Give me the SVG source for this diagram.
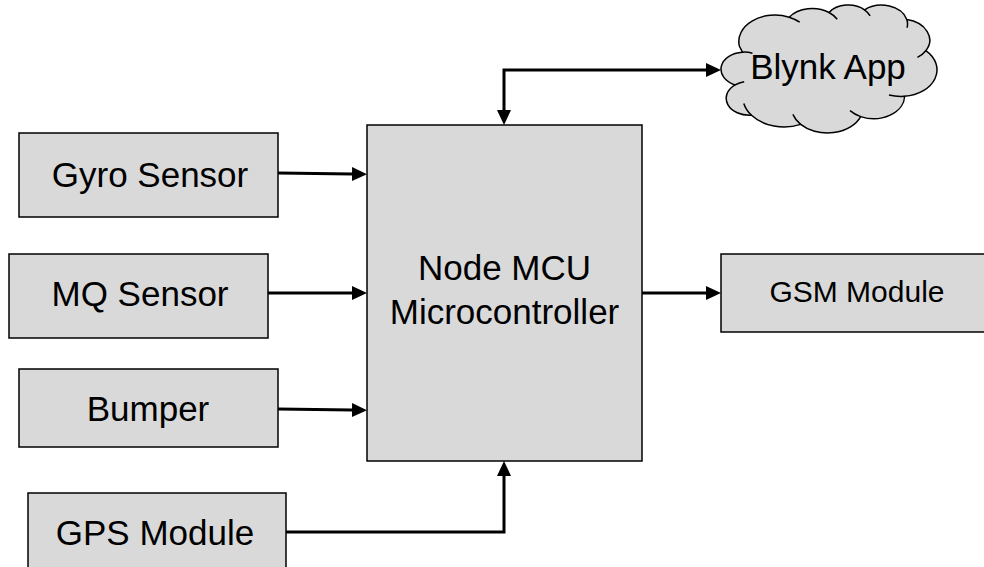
<svg xmlns="http://www.w3.org/2000/svg" width="984" height="567" viewBox="0 0 984 567">
<style>
.box{fill:#d9d9d9;stroke:#000;stroke-width:1.5}
.lbl{font-family:"Liberation Sans",Arial,sans-serif;font-size:35px;fill:#000;text-anchor:middle}
.conn{fill:none;stroke:#000;stroke-width:3}
.crease{fill:none;stroke:#000;stroke-width:1.5}
</style>
<defs>
<marker id="ah" markerUnits="userSpaceOnUse" markerWidth="16" markerHeight="14" refX="0" refY="7" orient="auto-start-reverse" viewBox="0 0 16 14">
<path d="M0,0 L15,7 L0,14 Z" fill="#000"/>
</marker>
</defs>
<rect width="984" height="567" fill="#fff"/>
<g id="connectors">
<path class="conn" d="M278,173 L352,174" marker-end="url(#ah)"/>
<path class="conn" d="M268,293 L352,293" marker-end="url(#ah)"/>
<path class="conn" d="M278,409 L352,410" marker-end="url(#ah)"/>
<path class="conn" d="M286,532 L504,532 L504,476" marker-end="url(#ah)"/>
<path class="conn" d="M642,293 L706,293" marker-end="url(#ah)"/>
<path class="conn" d="M504,110 L504,70 L706,70" marker-start="url(#ah)" marker-end="url(#ah)"/>
</g>
<g id="gyro">
<rect class="box" x="19" y="133" width="259" height="84"/>
<text class="lbl" x="150" y="187">Gyro Sensor</text>
</g>
<g id="mq">
<rect class="box" x="9" y="254" width="259" height="84"/>
<text class="lbl" x="140" y="306">MQ Sensor</text>
</g>
<g id="bumper">
<rect class="box" x="19" y="369" width="259" height="78"/>
<text class="lbl" x="148" y="421">Bumper</text>
</g>
<g id="gps">
<rect class="box" x="28" y="493" width="258" height="90"/>
<text class="lbl" x="155" y="545">GPS Module</text>
</g>
<g id="mcu">
<rect class="box" x="367" y="125" width="275" height="336"/>
<text class="lbl" x="504.5" y="280">Node MCU</text>
<text class="lbl" x="504.5" y="324">Microcontroller</text>
</g>
<g id="gsm">
<rect class="box" x="721" y="254" width="280" height="78"/>
<text class="lbl" x="857" y="302" style="font-size:30px">GSM Module</text>
</g>
<g id="blynk">
<path class="box" d="M739.42,46.30 A36.11,26.46 0 0 1 789.21,17.18 A28.52,20.92 0 0 1 829.02,12.49 A23.34,17.11 0 0 1 864.52,9.78 A25.98,18.98 0 0 1 906.79,19.60 A28.52,20.94 0 0 1 925.82,50.70 A36.23,26.54 0 0 1 904.56,96.27 A30.94,22.65 0 0 1 860.71,116.60 A36.11,26.53 0 0 1 800.66,124.36 A41.29,30.35 0 0 1 751.52,115.29 A23.32,17.04 0 0 1 735.10,84.93 A23.24,17.11 0 0 1 742.49,52.13 Z"/>
<path class="crease" d="M789.21,17.18 A36.11,26.46 0 0 1 799.71,22.23 M829.02,12.49 A28.52,20.92 0 0 1 837.23,19.26 M864.52,9.78 A23.34,17.11 0 0 1 870.12,15.95 M906.79,19.60 A25.98,18.98 0 0 1 907.04,27.82 M925.82,50.70 A28.52,20.94 0 0 1 917.43,57.35 M904.56,96.27 A36.23,26.54 0 0 1 888.98,94.97 M860.71,116.60 A30.94,22.65 0 0 1 850.04,110.68 M800.66,124.36 A36.11,26.53 0 0 1 792.88,114.40 M751.52,115.29 A41.29,30.35 0 0 1 743.80,103.43 M735.10,84.93 A23.32,17.04 0 0 1 744.19,81.73 M742.49,52.13 A23.24,17.11 0 0 1 752.45,53.18"/>
<text class="lbl" x="828" y="79">Blynk App</text>
</g>
</svg>
